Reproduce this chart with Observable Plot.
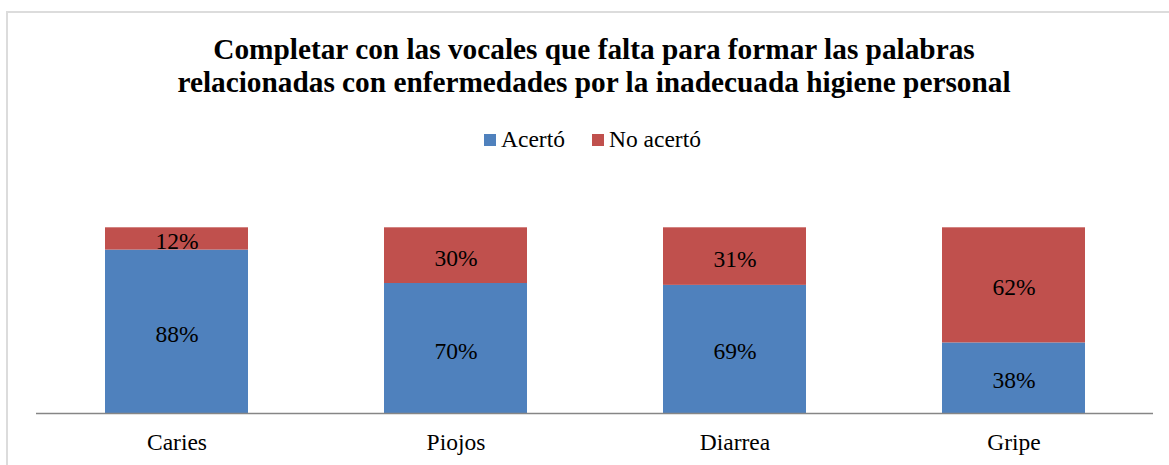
<!DOCTYPE html>
<html>
<head>
<meta charset="utf-8">
<script src="https://cdn.jsdelivr.net/npm/d3@7"></script>
<script src="https://cdn.jsdelivr.net/npm/@observablehq/plot@0.6"></script>
<style>
  html, body { margin: 0; padding: 0; background: #fff; overflow: hidden; width: 1169px; height: 465px; }
  body { position: relative; font-family: "Liberation Serif", "Times New Roman", serif; color: #000; }
  #frame { position: absolute; left: 6px; top: 11px; width: 1176px; height: 470px; border: 2px solid #dcdcdc; box-sizing: border-box; }
  #title { position: absolute; left: 0; top: 33px; width: 1188px; text-align: center; font-weight: bold; font-size: 29.3px; line-height: 33px; }
  #legend { position: absolute; left: 0; top: 125px; width: 1185px; text-align: center; font-size: 23.5px; line-height: 28px; white-space: nowrap; }
  #legend .item { display: inline-block; }
  #legend .item + .item { margin-left: 27px; }
  #legend .sw { display: inline-block; width: 12px; height: 12px; margin-right: 5px; vertical-align: 1px; }
  #chart { position: absolute; left: 0; top: 200px; }
</style>
</head>
<body>
<div id="frame"></div>
<div id="title">Completar con las vocales que falta para formar las palabras<br>relacionadas con enfermedades por la inadecuada higiene personal</div>
<div id="legend"></div>
<div id="chart"></div>
<script>
const categories = ["Caries", "Piojos", "Diarrea", "Gripe"];
const series = ["Acertó", "No acertó"];
const acerto = [88, 70, 69, 38];
const noAcerto = [12, 30, 31, 62];
const colors = ["#4f81bd", "#c0504d"];

const rows = [];
categories.forEach((c, i) => rows.push({cat: c, serie: series[0], value: acerto[i]}));
categories.forEach((c, i) => rows.push({cat: c, serie: series[1], value: noAcerto[i]}));

const legend = document.getElementById("legend");
series.forEach((s, i) => {
  const item = document.createElement("span");
  item.className = "item";
  const sw = document.createElement("span");
  sw.className = "sw";
  sw.style.background = colors[i];
  item.appendChild(sw);
  item.appendChild(document.createTextNode(s));
  legend.appendChild(item);
});

const font = '"Liberation Serif", "Times New Roman", serif';
const chart = Plot.plot({
  width: 1169,
  height: 265,
  marginLeft: 36,
  marginRight: 16,
  marginTop: 27.3,
  marginBottom: 52,
  style: {fontFamily: font, fontSize: "23.5px", color: "#000", background: "transparent", overflow: "visible"},
  x: {domain: categories, paddingInner: 0.488, paddingOuter: 0.244, label: null},
  y: {domain: [0, 100], axis: null},
  color: {domain: series, range: colors},
  marks: [
    Plot.barY(rows, {x: "cat", y: "value", fill: "serie", order: null}),
    Plot.text(rows, Plot.stackY({x: "cat", y: "value", text: d => d.value + "%", order: null, fill: "#000", fontSize: 23.5, dy: 2.5})),
    Plot.ruleY([0], {stroke: "#868686", strokeWidth: 1.5}),
    Plot.axisX({tickSize: 0, tickPadding: 20, fontSize: 23.5, label: null, fill: "#000"})
  ]
});
document.getElementById("chart").appendChild(chart);
</script>
</body>
</html>
